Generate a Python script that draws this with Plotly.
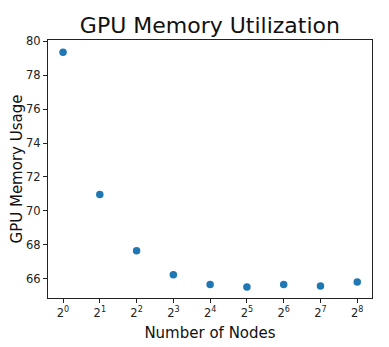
import plotly.graph_objects as go

nodes = [1, 2, 4, 8, 16, 32, 64, 128, 256]
memory_usage = [79.34, 70.97, 67.66, 66.25, 65.68, 65.53, 65.68, 65.59, 65.82]
x_tick_vals = [1, 2, 4, 8, 16, 32, 64, 128, 256]
x_tick_text = ["2<sup>%d</sup>" % i for i in range(9)]
y_tick_vals = [66, 68, 70, 72, 74, 76, 78, 80]

fig = go.Figure()
fig.add_trace(go.Scatter(
    x=nodes, y=memory_usage, mode="markers",
    marker=dict(color="#1f77b4", size=7.5, line=dict(width=0)),
    showlegend=False,
))

axis_common = dict(
    showline=True, linecolor="#222", linewidth=1, mirror=True,
    ticks="outside", ticklen=4, tickcolor="#222", tickwidth=1,
    showgrid=False, zeroline=False, automargin=False,
    tickfont=dict(family="DejaVu Sans", size=11.5, color="#222"),
)

fig.update_layout(
    width=381, height=339,
    margin=dict(l=40, r=17, t=32, b=49, autoexpand=False),
    paper_bgcolor="white", plot_bgcolor="white",
    font=dict(family="DejaVu Sans", color="#111"),
    title=dict(text="GPU Memory Utilization", x=0.53, xanchor="center",
               yref="container", y=0.95, yanchor="middle",
               font=dict(family="DejaVu Sans", size=22, color="#111")),
    xaxis=dict(type="log", range=[-0.1229, 2.529], tickvals=x_tick_vals,
               ticktext=x_tick_text,
               title=dict(text="Number of Nodes", font=dict(size=15), standoff=8),
               **axis_common),
    yaxis=dict(range=[64.88, 80.06], tickvals=y_tick_vals,
               title=dict(text="GPU Memory Usage", font=dict(size=15), standoff=10),
               **axis_common),
)

fig.write_html("out.html")
